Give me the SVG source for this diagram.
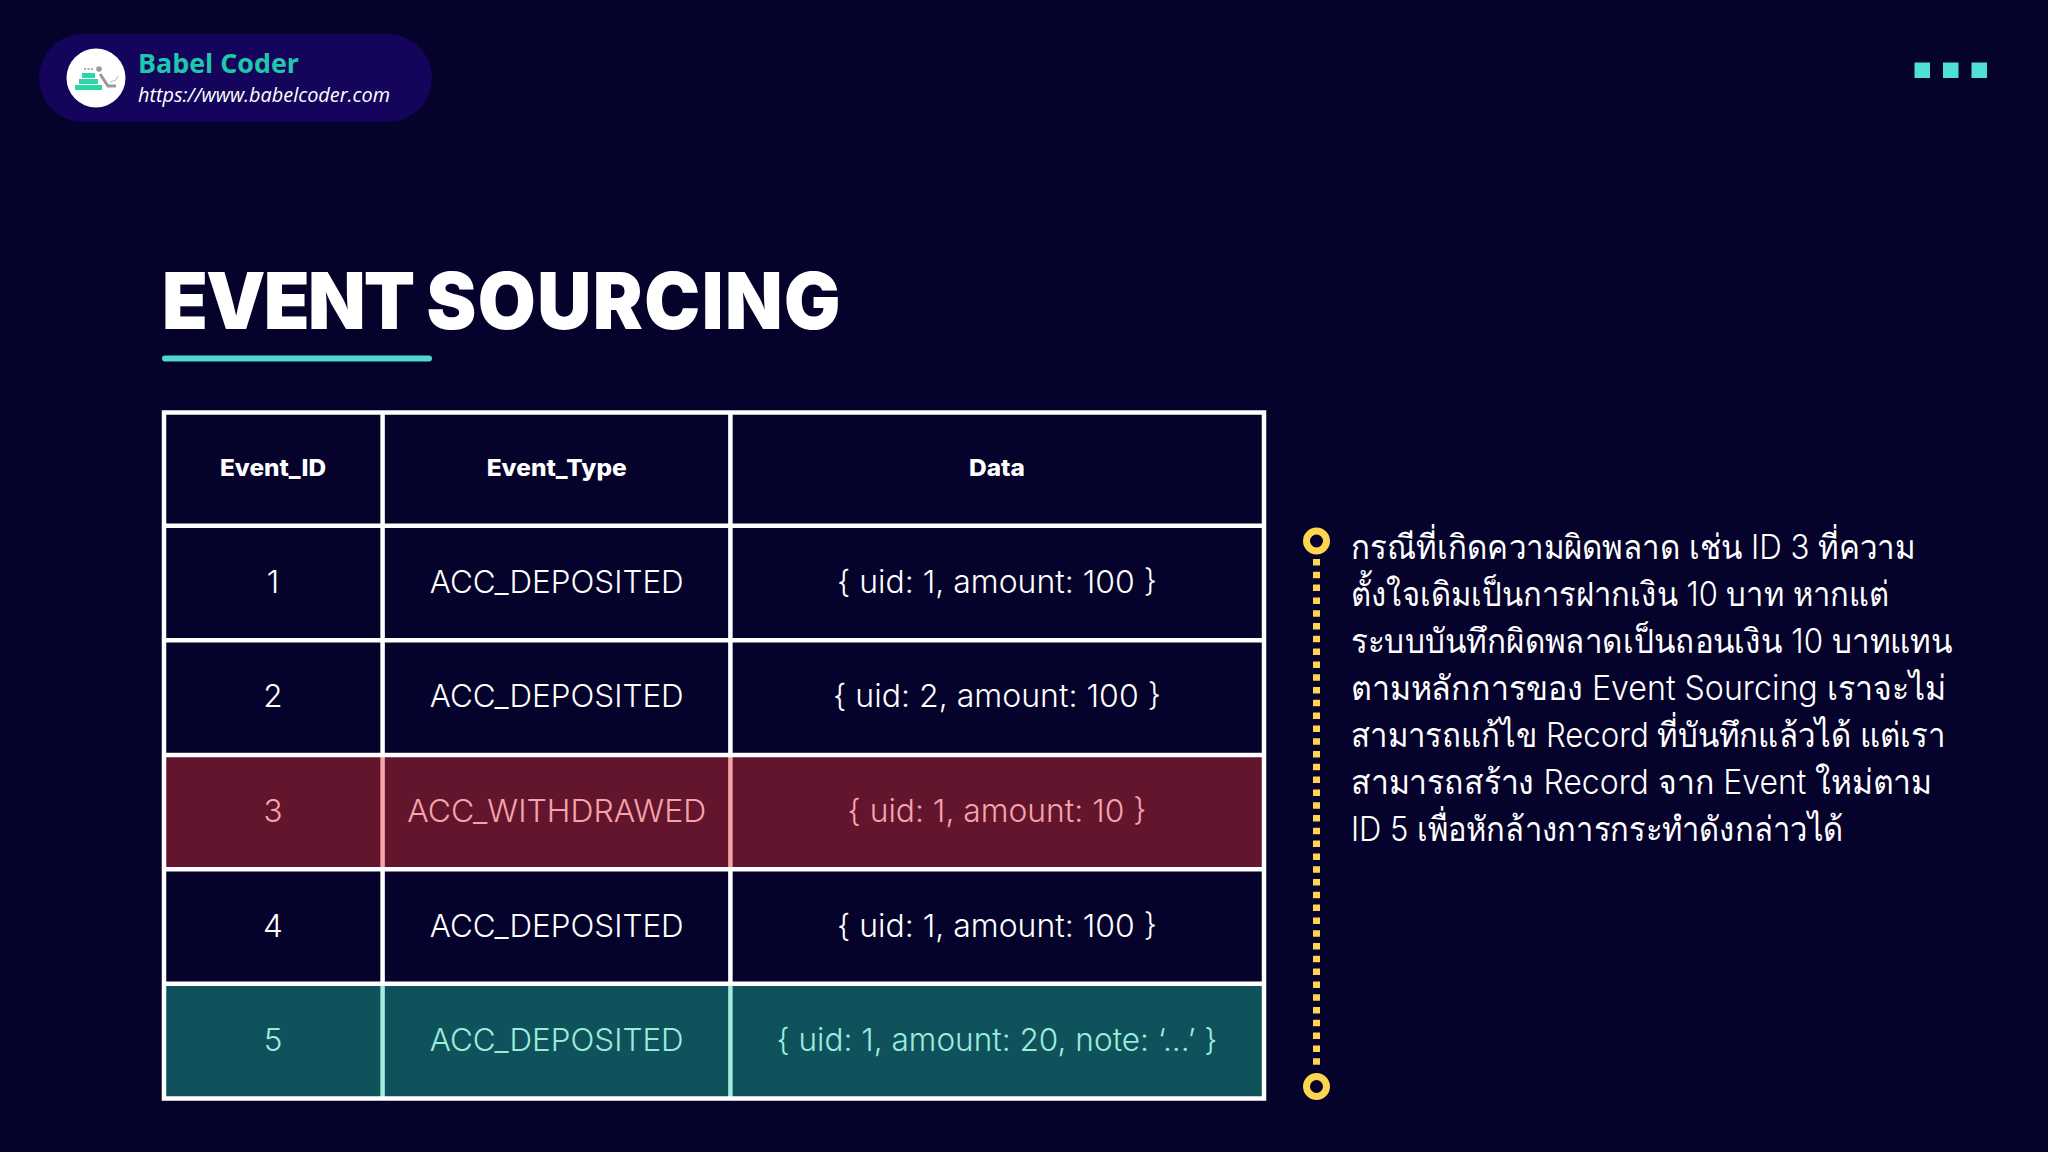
<svg xmlns="http://www.w3.org/2000/svg" width="2048" height="1152" viewBox="0 0 2048 1152">
<style>
.c{font-family:"Inter","Noto Sans",sans-serif;font-weight:300;font-size:31.5px;text-anchor:middle;fill:#fff}
.h{font-family:"Inter","Noto Sans",sans-serif;font-weight:800;font-size:23px;text-anchor:middle;fill:#fff}
.r{fill:#f7a3aa}.g{fill:#9cecdc}
.t{font-family:"Inter","Noto Sans","DejaVu Sans",sans-serif;font-weight:300;font-size:34px;fill:#fff}
.l{stroke:#fff;stroke-width:4.5;fill:none}
</style>
<rect width="2048" height="1152" fill="#05022b"/>
<g id="brand">
<rect x="39" y="34" width="393" height="88" rx="44" fill="#14045c"/>
<circle cx="96" cy="78" r="29.5" fill="#fff"/>
<g fill="#2bd6a6"><rect x="75" y="85" width="27" height="5"/><rect x="79" y="79" width="19" height="5"/><rect x="82" y="73" width="13" height="5"/></g>
<circle cx="99" cy="69" r="2.8" fill="#999"/>
<path d="M100 74 L108 86 L116 86" fill="none" stroke="#999" stroke-width="3"/>
<path d="M110 82 L116 80 L118 76" fill="none" stroke="#bbb" stroke-width="1"/>
<path d="M84 69 h9" stroke="#aaa" stroke-width="2" stroke-dasharray="2 1.5"/>
<text x="138" y="73" font-family="Open Sans,Noto Sans,sans-serif" font-weight="700" font-size="27" fill="#1fc8ac" textLength="161" lengthAdjust="spacingAndGlyphs">Babel Coder</text>
<text x="138" y="102" font-family="Open Sans,Noto Sans,sans-serif" font-style="italic" font-size="20.5" fill="#fff" textLength="252" lengthAdjust="spacingAndGlyphs">https://www.babelcoder.com</text>
</g>
<g id="corner-squares" fill="#4fe0d8">
<rect x="1914.5" y="62.5" width="15.5" height="15.5"/><rect x="1943" y="62.5" width="15.5" height="15.5"/><rect x="1971.5" y="62.5" width="15.5" height="15.5"/>
</g>
<g id="title">
<text x="162" y="329" font-family="Inter,Noto Sans,sans-serif" font-weight="900" font-size="78" fill="#fff" textLength="680" lengthAdjust="spacingAndGlyphs"><tspan letter-spacing="-1.9">EVENT </tspan><tspan letter-spacing="1.5">SOURCING</tspan></text>
<rect x="162" y="355.5" width="270" height="6" rx="3" fill="#4fd8d0"/>
</g>
<g id="table">
<rect x="164" y="755.5" width="1100" height="114.3" fill="#63152e"/>
<rect x="164" y="984.2" width="1100" height="114.3" fill="#0f525c"/>
<path class="l" d="M382.6 412.5V755.5M730.4 412.5V755.5M382.6 869.8V984.2M730.4 869.8V984.2"/>
<path d="M382.6 755.5V869.8M730.4 755.5V869.8" stroke="#f7a3aa" stroke-width="4.5"/>
<path d="M382.6 984.2V1098.5M730.4 984.2V1098.5" stroke="#a0ecdf" stroke-width="4.5"/>
<path class="l" d="M164 525.8H1264M164 640.2H1264M164 755H1264M164 869.3H1264M164 983.7H1264"/>
<rect class="l" x="164" y="412.5" width="1100" height="686"/>
<g id="header-row">
<text class="h" x="273" y="476" textLength="106" lengthAdjust="spacingAndGlyphs">Event_ID</text><text class="h" x="556.7" y="476" textLength="140" lengthAdjust="spacingAndGlyphs">Event_Type</text><text class="h" x="997" y="476" textLength="56" lengthAdjust="spacingAndGlyphs">Data</text>
</g>
<g id="row-1"><text class="c" x="273" y="593">1</text><text class="c" x="556.7" y="593" textLength="254" lengthAdjust="spacingAndGlyphs">ACC_DEPOSITED</text><text class="c" x="997" y="593" textLength="320" lengthAdjust="spacingAndGlyphs">{ uid: 1, amount: 100 }</text></g>
<g id="row-2"><text class="c" x="273" y="707.4">2</text><text class="c" x="556.7" y="707.4" textLength="254" lengthAdjust="spacingAndGlyphs">ACC_DEPOSITED</text><text class="c" x="997" y="707.4" textLength="328" lengthAdjust="spacingAndGlyphs">{ uid: 2, amount: 100 }</text></g>
<g id="row-3"><text class="c r" x="273" y="821.7">3</text><text class="c r" x="556.7" y="821.7" textLength="299" lengthAdjust="spacingAndGlyphs">ACC_WITHDRAWED</text><text class="c r" x="997" y="821.7" textLength="299" lengthAdjust="spacingAndGlyphs">{ uid: 1, amount: 10 }</text></g>
<g id="row-4"><text class="c" x="273" y="936.5">4</text><text class="c" x="556.7" y="936.5" textLength="254" lengthAdjust="spacingAndGlyphs">ACC_DEPOSITED</text><text class="c" x="997" y="936.5" textLength="320" lengthAdjust="spacingAndGlyphs">{ uid: 1, amount: 100 }</text></g>
<g id="row-5"><text class="c g" x="273" y="1051">5</text><text class="c g" x="556.7" y="1051" textLength="254" lengthAdjust="spacingAndGlyphs">ACC_DEPOSITED</text><text class="c g" x="997" y="1051" textLength="441" lengthAdjust="spacingAndGlyphs">{ uid: 1, amount: 20, note: ‘...’ }</text></g>
</g>
<g id="timeline">
<path d="M1316.5 559V1068" stroke="#fdd54f" stroke-width="7" stroke-dasharray="6.5 6.3"/>
<circle cx="1316.5" cy="541" r="10" fill="none" stroke="#fdd54f" stroke-width="7"/>
<circle cx="1316.5" cy="1086.5" r="10" fill="none" stroke="#fdd54f" stroke-width="7"/>
</g>
<g id="note">
<text class="t" x="1351" y="559" textLength="564" lengthAdjust="spacingAndGlyphs">กรณีที่เกิดความผิดพลาด เช่น ID 3 ที่ความ</text>
<text class="t" x="1351" y="606" textLength="538" lengthAdjust="spacingAndGlyphs">ตั้งใจเดิมเป็นการฝากเงิน 10 บาท หากแต่</text>
<text class="t" x="1351" y="653" textLength="601" lengthAdjust="spacingAndGlyphs">ระบบบันทึกผิดพลาดเป็นถอนเงิน 10 บาทแทน</text>
<text class="t" x="1351" y="700" textLength="595" lengthAdjust="spacingAndGlyphs">ตามหลักการของ Event Sourcing เราจะไม่</text>
<text class="t" x="1351" y="747" textLength="594" lengthAdjust="spacingAndGlyphs">สามารถแก้ไข Record ที่บันทึกแล้วได้ แต่เรา</text>
<text class="t" x="1351" y="794" textLength="581" lengthAdjust="spacingAndGlyphs">สามารถสร้าง Record จาก Event ใหม่ตาม</text>
<text class="t" x="1351" y="841" textLength="492" lengthAdjust="spacingAndGlyphs">ID 5 เพื่อหักล้างการกระทำดังกล่าวได้</text>
</g>
</svg>
